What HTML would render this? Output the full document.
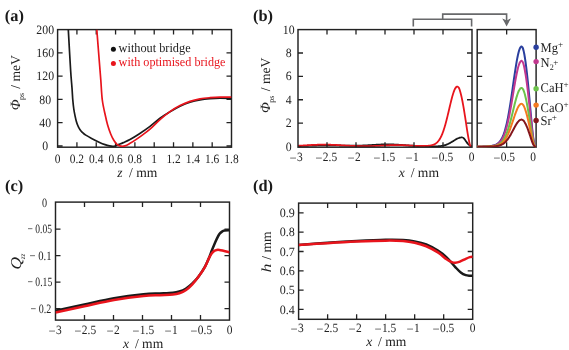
<!DOCTYPE html>
<html><head><meta charset="utf-8"><title>fig</title>
<style>
html,body{margin:0;padding:0;background:#fff;}
svg{display:block;font-family:"Liberation Serif",serif;text-rendering:geometricPrecision;}
svg{will-change:transform;}

</style></head><body>
<svg width="569" height="350" viewBox="0 0 569 350">
<rect width="569" height="350" fill="#fff"/>
<defs>
<clipPath id="ca"><rect x="57.6" y="29.6" width="173.9" height="117.6"/></clipPath>
<clipPath id="cb"><rect x="298.0" y="29.6" width="174.0" height="117.6"/></clipPath>
<clipPath id="ci"><rect x="477.2" y="29.6" width="58.9" height="117.6"/></clipPath>
<clipPath id="cc"><rect x="55.5" y="202.1" width="174" height="118.0"/></clipPath>
<clipPath id="cd"><rect x="298.6" y="203.1" width="174.1" height="116.2"/></clipPath>
</defs>

<text x="4.8" y="20.7" font-size="16.4" font-weight="bold" fill="#1a1a1a">(a)</text>
<text x="253.0" y="20.7" font-size="16.4" font-weight="bold" fill="#1a1a1a">(b)</text>
<text x="5.1" y="190.7" font-size="16.4" font-weight="bold" fill="#1a1a1a">(c)</text>
<text x="253.0" y="190.7" font-size="16.4" font-weight="bold" fill="#1a1a1a">(d)</text>
<rect x="57.6" y="29.6" width="173.9" height="117.6" fill="none" stroke="#222222" stroke-width="1.45"/>
<path d="M76.92,147.2 v-5.0 M76.92,29.6 v5.0 M96.24,147.2 v-5.0 M96.24,29.6 v5.0 M115.57,147.2 v-5.0 M115.57,29.6 v5.0 M134.89,147.2 v-5.0 M134.89,29.6 v5.0 M154.21,147.2 v-5.0 M154.21,29.6 v5.0 M173.53,147.2 v-5.0 M173.53,29.6 v5.0 M192.86,147.2 v-5.0 M192.86,29.6 v5.0 M212.18,147.2 v-5.0 M212.18,29.6 v5.0 M57.6,146.00 h5.0 M231.5,146.00 h-5.0 M57.6,122.72 h5.0 M231.5,122.72 h-5.0 M57.6,99.44 h5.0 M231.5,99.44 h-5.0 M57.6,76.16 h5.0 M231.5,76.16 h-5.0 M57.6,52.88 h5.0 M231.5,52.88 h-5.0 " fill="none" stroke="#222222" stroke-width="1.3"/>
<path d="M68.30,29.60 C68.68,36.33 69.98,60.27 70.60,70.00 C71.22,79.73 71.63,83.00 72.00,88.00 C72.37,93.00 72.50,96.50 72.80,100.00 C73.10,103.50 73.42,106.30 73.80,109.00 C74.18,111.70 74.68,114.17 75.10,116.20 C75.52,118.23 75.87,119.68 76.30,121.20 C76.73,122.72 77.22,124.10 77.70,125.30 C78.18,126.50 78.65,127.45 79.20,128.40 C79.75,129.35 80.33,130.20 81.00,131.00 C81.67,131.80 82.40,132.52 83.20,133.20 C84.00,133.88 84.40,134.23 85.80,135.10 C87.20,135.97 89.30,137.18 91.60,138.40 C93.90,139.62 97.37,141.37 99.60,142.40 C101.83,143.43 103.35,144.02 105.00,144.60 C106.65,145.18 108.17,145.62 109.50,145.90 C110.83,146.18 111.92,146.35 113.00,146.30 C114.08,146.25 115.00,145.92 116.00,145.60 C117.00,145.28 117.78,144.90 119.00,144.40 C120.22,143.90 121.47,143.42 123.30,142.60 C125.13,141.78 127.37,140.93 130.00,139.50 C132.63,138.07 135.77,136.18 139.10,134.00 C142.43,131.82 146.52,129.02 150.00,126.40 C153.48,123.78 156.67,120.73 160.00,118.30 C163.33,115.87 166.67,113.82 170.00,111.80 C173.33,109.78 176.67,107.80 180.00,106.20 C183.33,104.60 186.67,103.27 190.00,102.20 C193.33,101.13 196.67,100.40 200.00,99.80 C203.33,99.20 206.67,98.88 210.00,98.60 C213.33,98.32 216.42,98.13 220.00,98.10 C223.58,98.07 229.58,98.35 231.50,98.40" fill="none" stroke="#1a1a1a" stroke-width="1.7" stroke-linejoin="round" stroke-linecap="butt" clip-path="url(#ca)"/>
<path d="M96.80,29.60 C97.20,34.67 98.53,51.60 99.20,60.00 C99.87,68.40 100.28,73.33 100.80,80.00 C101.32,86.67 101.53,94.03 102.30,100.00 C103.07,105.97 104.50,111.58 105.40,115.80 C106.30,120.02 106.82,122.27 107.70,125.30 C108.58,128.33 109.68,131.50 110.70,134.00 C111.72,136.50 112.75,138.58 113.80,140.30 C114.85,142.02 115.82,143.33 117.00,144.30 C118.18,145.27 119.58,145.83 120.90,146.10 C122.22,146.37 123.45,146.32 124.90,145.90 C126.35,145.48 127.77,144.65 129.60,143.60 C131.43,142.55 133.78,141.02 135.90,139.60 C138.02,138.18 139.95,136.83 142.30,135.10 C144.65,133.37 147.05,131.78 150.00,129.20 C152.95,126.62 156.67,122.53 160.00,119.60 C163.33,116.67 166.67,113.93 170.00,111.60 C173.33,109.27 176.67,107.30 180.00,105.60 C183.33,103.90 186.67,102.52 190.00,101.40 C193.33,100.28 196.67,99.52 200.00,98.90 C203.33,98.28 206.67,98.00 210.00,97.70 C213.33,97.40 216.42,97.18 220.00,97.10 C223.58,97.02 229.58,97.18 231.50,97.20" fill="none" stroke="#e8141c" stroke-width="1.7" stroke-linejoin="round" stroke-linecap="butt" clip-path="url(#ca)"/>
<text transform="translate(57.60,162.50) scale(0.9,1)" font-size="12.7" text-anchor="middle" fill="#222" >0</text>
<text transform="translate(76.92,162.50) scale(0.9,1)" font-size="12.7" text-anchor="middle" fill="#222" >0.2</text>
<text transform="translate(96.24,162.50) scale(0.9,1)" font-size="12.7" text-anchor="middle" fill="#222" >0.4</text>
<text transform="translate(115.57,162.50) scale(0.9,1)" font-size="12.7" text-anchor="middle" fill="#222" >0.6</text>
<text transform="translate(134.89,162.50) scale(0.9,1)" font-size="12.7" text-anchor="middle" fill="#222" >0.8</text>
<text transform="translate(154.21,162.50) scale(0.9,1)" font-size="12.7" text-anchor="middle" fill="#222" >1</text>
<text transform="translate(173.53,162.50) scale(0.9,1)" font-size="12.7" text-anchor="middle" fill="#222" >1.2</text>
<text transform="translate(192.86,162.50) scale(0.9,1)" font-size="12.7" text-anchor="middle" fill="#222" >1.4</text>
<text transform="translate(212.18,162.50) scale(0.9,1)" font-size="12.7" text-anchor="middle" fill="#222" >1.6</text>
<text transform="translate(231.50,162.50) scale(0.9,1)" font-size="12.7" text-anchor="middle" fill="#222" >1.8</text>
<text transform="translate(45.20,150.10) scale(0.93,1)" font-size="12.7" text-anchor="middle" fill="#222" >0</text>
<text transform="translate(45.20,126.82) scale(0.93,1)" font-size="12.7" text-anchor="middle" fill="#222" >40</text>
<text transform="translate(45.20,103.54) scale(0.93,1)" font-size="12.7" text-anchor="middle" fill="#222" >80</text>
<text transform="translate(45.20,80.26) scale(0.93,1)" font-size="12.7" text-anchor="middle" fill="#222" >120</text>
<text transform="translate(45.20,56.98) scale(0.93,1)" font-size="12.7" text-anchor="middle" fill="#222" >160</text>
<text transform="translate(45.20,33.70) scale(0.93,1)" font-size="12.7" text-anchor="middle" fill="#222" >200</text>
<text x="117.3" y="176.7" font-size="13.6" fill="#222" font-style="italic">z</text>
<text x="129.1" y="176.7" font-size="13.6" fill="#222">/ mm</text>
<text transform="translate(20.2,110.3) rotate(-90)" font-size="14.2" fill="#222" font-style="italic">Φ</text>
<text transform="translate(24.2,99.9) rotate(-90)" font-size="8.0" fill="#222">ps</text>
<text transform="translate(20.2,88.7) rotate(-90)" font-size="13.6" fill="#222">/ meV</text>
<circle cx="113.4" cy="49.2" r="2.5" fill="#111"/>
<circle cx="113.4" cy="63.6" r="2.5" fill="#e8141c"/>
<text transform="translate(118.60,52.00) scale(0.945,1)" font-size="13" text-anchor="start" fill="#222" >without bridge</text>
<text transform="translate(118.60,66.30) scale(0.937,1)" font-size="13" text-anchor="start" fill="#e8141c" >with optimised bridge</text>
<path d="M298.00,146.08 C298.10,146.08 298.39,146.07 298.58,146.06 C298.77,146.06 298.97,146.05 299.16,146.04 C299.35,146.04 299.55,146.03 299.74,146.03 C299.93,146.02 300.13,146.01 300.32,146.01 C300.51,146.00 300.71,145.99 300.90,145.99 C301.09,145.98 301.29,145.98 301.48,145.97 C301.67,145.96 301.87,145.96 302.06,145.95 C302.25,145.94 302.45,145.94 302.64,145.93 C302.83,145.92 303.03,145.92 303.22,145.91 C303.41,145.90 303.61,145.90 303.80,145.89 C303.99,145.88 304.19,145.88 304.38,145.87 C304.57,145.86 304.77,145.86 304.96,145.85 C305.15,145.84 305.35,145.84 305.54,145.83 C305.73,145.82 305.93,145.82 306.12,145.81 C306.31,145.80 306.51,145.80 306.70,145.79 C306.89,145.78 307.09,145.78 307.28,145.77 C307.47,145.76 307.67,145.76 307.86,145.75 C308.05,145.74 308.25,145.74 308.44,145.73 C308.63,145.72 308.83,145.72 309.02,145.71 C309.21,145.70 309.41,145.70 309.60,145.69 C309.79,145.68 309.99,145.68 310.18,145.67 C310.37,145.66 310.57,145.66 310.76,145.65 C310.95,145.64 311.15,145.64 311.34,145.63 C311.53,145.63 311.73,145.62 311.92,145.61 C312.11,145.61 312.31,145.60 312.50,145.59 C312.69,145.59 312.89,145.58 313.08,145.58 C313.27,145.57 313.47,145.56 313.66,145.56 C313.85,145.55 314.05,145.55 314.24,145.54 C314.43,145.53 314.63,145.53 314.82,145.52 C315.01,145.52 315.21,145.51 315.40,145.51 C315.59,145.50 315.79,145.50 315.98,145.49 C316.17,145.49 316.37,145.48 316.56,145.48 C316.75,145.47 316.95,145.47 317.14,145.46 C317.33,145.46 317.53,145.45 317.72,145.45 C317.91,145.44 318.11,145.44 318.30,145.43 C318.49,145.43 318.69,145.42 318.88,145.42 C319.07,145.42 319.27,145.41 319.46,145.41 C319.65,145.40 319.85,145.40 320.04,145.40 C320.23,145.39 320.43,145.39 320.62,145.39 C320.81,145.38 321.01,145.38 321.20,145.38 C321.39,145.37 321.59,145.37 321.78,145.37 C321.97,145.36 322.17,145.36 322.36,145.36 C322.55,145.36 322.75,145.35 322.94,145.35 C323.13,145.35 323.33,145.35 323.52,145.35 C323.71,145.34 323.91,145.34 324.10,145.34 C324.29,145.34 324.49,145.34 324.68,145.34 C324.87,145.33 325.07,145.33 325.26,145.33 C325.45,145.33 325.65,145.33 325.84,145.33 C326.03,145.33 326.23,145.33 326.42,145.33 C326.61,145.33 326.81,145.33 327.00,145.33 C327.19,145.33 327.39,145.33 327.58,145.33 C327.77,145.33 327.97,145.33 328.16,145.33 C328.35,145.33 328.55,145.33 328.74,145.33 C328.93,145.33 329.13,145.33 329.32,145.33 C329.51,145.33 329.71,145.33 329.90,145.33 C330.09,145.34 330.29,145.34 330.48,145.34 C330.67,145.34 330.87,145.34 331.06,145.34 C331.25,145.35 331.45,145.35 331.64,145.35 C331.83,145.35 332.03,145.35 332.22,145.36 C332.41,145.36 332.61,145.36 332.80,145.36 C332.99,145.37 333.19,145.37 333.38,145.37 C333.57,145.37 333.77,145.38 333.96,145.38 C334.15,145.38 334.35,145.39 334.54,145.39 C334.73,145.39 334.93,145.40 335.12,145.40 C335.31,145.40 335.51,145.41 335.70,145.41 C335.89,145.41 336.09,145.42 336.28,145.42 C336.47,145.42 336.67,145.43 336.86,145.43 C337.05,145.44 337.25,145.44 337.44,145.44 C337.63,145.45 337.83,145.45 338.02,145.46 C338.21,145.46 338.41,145.46 338.60,145.47 C338.79,145.47 338.99,145.48 339.18,145.48 C339.37,145.49 339.57,145.49 339.76,145.49 C339.95,145.50 340.15,145.50 340.34,145.51 C340.53,145.51 340.73,145.52 340.92,145.52 C341.11,145.53 341.31,145.53 341.50,145.53 C341.69,145.54 341.89,145.54 342.08,145.55 C342.27,145.55 342.47,145.56 342.66,145.56 C342.85,145.56 343.05,145.57 343.24,145.57 C343.43,145.58 343.63,145.58 343.82,145.59 C344.01,145.59 344.21,145.59 344.40,145.60 C344.59,145.60 344.79,145.61 344.98,145.61 C345.17,145.61 345.37,145.62 345.56,145.62 C345.75,145.63 345.95,145.63 346.14,145.63 C346.33,145.64 346.53,145.64 346.72,145.64 C346.91,145.65 347.11,145.65 347.30,145.65 C347.49,145.66 347.69,145.66 347.88,145.66 C348.07,145.66 348.27,145.67 348.46,145.67 C348.65,145.67 348.85,145.68 349.04,145.68 C349.23,145.68 349.43,145.68 349.62,145.68 C349.81,145.69 350.01,145.69 350.20,145.69 C350.39,145.69 350.59,145.69 350.78,145.70 C350.97,145.70 351.17,145.70 351.36,145.70 C351.55,145.70 351.75,145.70 351.94,145.70 C352.13,145.70 352.33,145.70 352.52,145.70 C352.71,145.70 352.91,145.70 353.10,145.70 C353.29,145.70 353.49,145.70 353.68,145.70 C353.87,145.70 354.07,145.70 354.26,145.70 C354.45,145.70 354.65,145.70 354.84,145.70 C355.03,145.70 355.23,145.69 355.42,145.69 C355.61,145.69 355.81,145.69 356.00,145.69 C356.19,145.68 356.39,145.68 356.58,145.68 C356.77,145.68 356.97,145.67 357.16,145.67 C357.35,145.67 357.55,145.66 357.74,145.66 C357.93,145.66 358.13,145.65 358.32,145.65 C358.51,145.64 358.71,145.64 358.90,145.64 C359.09,145.63 359.29,145.63 359.48,145.62 C359.67,145.62 359.87,145.61 360.06,145.60 C360.25,145.60 360.45,145.59 360.64,145.59 C360.83,145.58 361.03,145.57 361.22,145.57 C361.41,145.56 361.61,145.55 361.80,145.55 C361.99,145.54 362.19,145.53 362.38,145.53 C362.57,145.52 362.77,145.51 362.96,145.50 C363.15,145.50 363.35,145.49 363.54,145.48 C363.73,145.47 363.93,145.46 364.12,145.45 C364.31,145.44 364.51,145.44 364.70,145.43 C364.89,145.42 365.09,145.41 365.28,145.40 C365.47,145.39 365.67,145.38 365.86,145.37 C366.05,145.36 366.25,145.35 366.44,145.34 C366.63,145.33 366.83,145.32 367.02,145.31 C367.21,145.30 367.41,145.29 367.60,145.28 C367.79,145.27 367.99,145.25 368.18,145.24 C368.37,145.23 368.57,145.22 368.76,145.21 C368.95,145.20 369.15,145.19 369.34,145.18 C369.53,145.16 369.73,145.15 369.92,145.14 C370.11,145.13 370.31,145.12 370.50,145.11 C370.69,145.09 370.89,145.08 371.08,145.07 C371.27,145.06 371.47,145.05 371.66,145.03 C371.85,145.02 372.05,145.01 372.24,145.00 C372.43,144.99 372.63,144.98 372.82,144.96 C373.01,144.95 373.21,144.94 373.40,144.93 C373.59,144.92 373.79,144.90 373.98,144.89 C374.17,144.88 374.37,144.87 374.56,144.86 C374.75,144.84 374.95,144.83 375.14,144.82 C375.33,144.81 375.53,144.80 375.72,144.79 C375.91,144.78 376.11,144.76 376.30,144.75 C376.49,144.74 376.69,144.73 376.88,144.72 C377.07,144.71 377.27,144.70 377.46,144.69 C377.65,144.68 377.85,144.67 378.04,144.66 C378.23,144.65 378.43,144.64 378.62,144.63 C378.81,144.62 379.01,144.61 379.20,144.60 C379.39,144.59 379.59,144.58 379.78,144.57 C379.97,144.56 380.17,144.56 380.36,144.55 C380.55,144.54 380.75,144.53 380.94,144.52 C381.13,144.52 381.33,144.51 381.52,144.50 C381.71,144.49 381.91,144.49 382.10,144.48 C382.29,144.47 382.49,144.47 382.68,144.46 C382.87,144.46 383.07,144.45 383.26,144.44 C383.45,144.44 383.65,144.43 383.84,144.43 C384.03,144.42 384.23,144.42 384.42,144.42 C384.61,144.41 384.81,144.41 385.00,144.41 C385.19,144.40 385.39,144.40 385.58,144.40 C385.77,144.39 385.97,144.39 386.16,144.39 C386.35,144.39 386.55,144.39 386.74,144.39 C386.93,144.38 387.13,144.38 387.32,144.38 C387.51,144.38 387.71,144.38 387.90,144.38 C388.09,144.38 388.29,144.38 388.48,144.39 C388.67,144.39 388.87,144.39 389.06,144.39 C389.25,144.39 389.45,144.39 389.64,144.40 C389.83,144.40 390.03,144.40 390.22,144.41 C390.41,144.41 390.61,144.41 390.80,144.42 C390.99,144.42 391.19,144.43 391.38,144.43 C391.57,144.43 391.77,144.44 391.96,144.45 C392.15,144.45 392.35,144.46 392.54,144.46 C392.73,144.47 392.93,144.48 393.12,144.48 C393.31,144.49 393.51,144.50 393.70,144.50 C393.89,144.51 394.09,144.52 394.28,144.53 C394.47,144.54 394.67,144.54 394.86,144.55 C395.05,144.56 395.25,144.57 395.44,144.58 C395.63,144.59 395.83,144.60 396.02,144.61 C396.21,144.62 396.41,144.63 396.60,144.64 C396.79,144.65 396.99,144.66 397.18,144.67 C397.37,144.68 397.57,144.69 397.76,144.71 C397.95,144.72 398.15,144.73 398.34,144.74 C398.53,144.75 398.73,144.76 398.92,144.78 C399.11,144.79 399.31,144.80 399.50,144.81 C399.69,144.83 399.89,144.84 400.08,144.85 C400.27,144.86 400.47,144.88 400.66,144.89 C400.85,144.90 401.05,144.92 401.24,144.93 C401.43,144.94 401.63,144.96 401.82,144.97 C402.01,144.98 402.21,145.00 402.40,145.01 C402.59,145.03 402.79,145.04 402.98,145.05 C403.17,145.07 403.37,145.08 403.56,145.10 C403.75,145.11 403.95,145.12 404.14,145.14 C404.33,145.15 404.53,145.17 404.72,145.18 C404.91,145.19 405.11,145.21 405.30,145.22 C405.49,145.24 405.69,145.25 405.88,145.27 C406.07,145.28 406.27,145.29 406.46,145.31 C406.65,145.32 406.85,145.34 407.04,145.35 C407.23,145.36 407.43,145.38 407.62,145.39 C407.81,145.41 408.01,145.42 408.20,145.43 C408.39,145.45 408.59,145.46 408.78,145.48 C408.97,145.49 409.17,145.50 409.36,145.52 C409.55,145.53 409.75,145.54 409.94,145.56 C410.13,145.57 410.33,145.58 410.52,145.60 C410.71,145.61 410.91,145.62 411.10,145.63 C411.29,145.65 411.49,145.66 411.68,145.67 C411.87,145.69 412.07,145.70 412.26,145.71 C412.45,145.72 412.65,145.73 412.84,145.75 C413.03,145.76 413.23,145.77 413.42,145.78 C413.61,145.79 413.81,145.81 414.00,145.82 C414.19,145.83 414.39,145.84 414.58,145.85 C414.77,145.86 414.97,145.87 415.16,145.88 C415.35,145.89 415.55,145.90 415.74,145.91 C415.93,145.93 416.13,145.94 416.32,145.95 C416.51,145.96 416.71,145.97 416.90,145.98 C417.09,145.98 417.29,145.99 417.48,146.00 C417.67,146.01 417.87,146.02 418.06,146.03 C418.25,146.04 418.45,146.05 418.64,146.06 C418.83,146.07 419.03,146.08 419.22,146.08 C419.41,146.09 419.61,146.10 419.80,146.11 C419.99,146.12 420.19,146.12 420.38,146.13 C420.57,146.14 420.77,146.15 420.96,146.15 C421.15,146.16 421.35,146.17 421.54,146.18 C421.73,146.18 421.93,146.19 422.12,146.20 C422.31,146.20 422.51,146.21 422.70,146.21 C422.89,146.22 423.09,146.23 423.28,146.23 C423.47,146.24 423.67,146.25 423.86,146.25 C424.05,146.26 424.25,146.26 424.44,146.27 C424.63,146.27 424.83,146.28 425.02,146.28 C425.21,146.29 425.41,146.29 425.60,146.30 C425.79,146.30 425.99,146.31 426.18,146.31 C426.37,146.32 426.57,146.32 426.76,146.32 C426.95,146.33 427.15,146.33 427.34,146.34 C427.53,146.34 427.73,146.34 427.92,146.35 C428.11,146.35 428.31,146.35 428.50,146.36 C428.69,146.36 428.89,146.36 429.08,146.37 C429.27,146.37 429.47,146.37 429.66,146.37 C429.85,146.38 430.05,146.38 430.24,146.38 C430.43,146.38 430.63,146.38 430.82,146.38 C431.01,146.39 431.21,146.39 431.40,146.39 C431.59,146.39 431.79,146.39 431.98,146.39 C432.17,146.39 432.37,146.39 432.56,146.39 C432.75,146.39 432.95,146.39 433.14,146.39 C433.33,146.39 433.53,146.39 433.72,146.39 C433.91,146.39 434.11,146.39 434.30,146.38 C434.49,146.38 434.69,146.38 434.88,146.37 C435.07,146.37 435.27,146.37 435.46,146.36 C435.65,146.36 435.85,146.35 436.04,146.35 C436.23,146.34 436.43,146.34 436.62,146.33 C436.81,146.32 437.01,146.32 437.20,146.31 C437.39,146.30 437.59,146.29 437.78,146.28 C437.97,146.27 438.17,146.26 438.36,146.24 C438.55,146.23 438.75,146.22 438.94,146.20 C439.13,146.19 439.33,146.17 439.52,146.15 C439.71,146.14 439.91,146.12 440.10,146.10 C440.29,146.08 440.49,146.05 440.68,146.03 C440.87,146.01 441.07,145.98 441.26,145.95 C441.45,145.93 441.65,145.90 441.84,145.86 C442.03,145.83 442.23,145.80 442.42,145.76 C442.61,145.73 442.81,145.69 443.00,145.65 C443.19,145.61 443.39,145.57 443.58,145.52 C443.77,145.48 443.97,145.43 444.16,145.38 C444.35,145.33 444.55,145.28 444.74,145.22 C444.93,145.17 445.13,145.11 445.32,145.05 C445.51,144.99 445.71,144.92 445.90,144.85 C446.09,144.79 446.29,144.72 446.48,144.64 C446.67,144.57 446.87,144.50 447.06,144.42 C447.25,144.34 447.45,144.25 447.64,144.17 C447.83,144.08 448.03,144.00 448.22,143.91 C448.41,143.81 448.61,143.72 448.80,143.62 C448.99,143.53 449.19,143.43 449.38,143.32 C449.57,143.22 449.77,143.12 449.96,143.01 C450.15,142.90 450.35,142.79 450.54,142.68 C450.73,142.57 450.93,142.46 451.12,142.34 C451.31,142.22 451.51,142.11 451.70,141.99 C451.89,141.87 452.09,141.75 452.28,141.63 C452.47,141.51 452.67,141.38 452.86,141.26 C453.05,141.14 453.25,141.02 453.44,140.89 C453.63,140.77 453.83,140.65 454.02,140.53 C454.21,140.40 454.41,140.28 454.60,140.16 C454.79,140.04 454.99,139.92 455.18,139.81 C455.37,139.69 455.57,139.58 455.76,139.46 C455.95,139.35 456.15,139.24 456.34,139.13 C456.53,139.03 456.73,138.92 456.92,138.82 C457.11,138.72 457.31,138.63 457.50,138.53 C457.69,138.44 457.89,138.35 458.08,138.27 C458.27,138.19 458.47,138.11 458.66,138.04 C458.85,137.97 459.05,137.90 459.24,137.84 C459.43,137.77 459.63,137.72 459.82,137.67 C460.01,137.62 460.21,137.58 460.40,137.54 C460.59,137.50 460.79,137.47 460.98,137.45 C461.17,137.42 461.37,137.40 461.56,137.39 C461.75,137.38 461.95,137.36 462.14,137.39 C462.33,137.41 462.53,137.45 462.72,137.54 C462.91,137.62 463.11,137.74 463.30,137.89 C463.49,138.04 463.69,138.22 463.88,138.42 C464.07,138.62 464.27,138.86 464.46,139.10 C464.65,139.34 464.85,139.61 465.04,139.88 C465.23,140.15 465.43,140.43 465.62,140.71 C465.81,141.00 466.01,141.28 466.20,141.56 C466.39,141.84 466.59,142.12 466.78,142.39 C466.97,142.65 467.17,142.91 467.36,143.15 C467.55,143.39 467.75,143.62 467.94,143.84 C468.13,144.05 468.33,144.25 468.52,144.43 C468.71,144.62 468.91,144.78 469.10,144.93 C469.29,145.08 469.49,145.18 469.68,145.34 C469.87,145.50 470.07,145.73 470.26,145.87 C470.45,146.01 470.65,146.12 470.84,146.20 C471.03,146.29 471.23,146.35 471.42,146.40 C471.61,146.45 471.90,146.48 472.00,146.50" fill="none" stroke="#1a1a1a" stroke-width="1.8" stroke-linejoin="round" stroke-linecap="butt" clip-path="url(#cb)"/>
<path d="M298.00,145.80 C298.10,145.80 298.39,145.78 298.58,145.77 C298.77,145.76 298.97,145.75 299.16,145.74 C299.35,145.73 299.55,145.72 299.74,145.71 C299.93,145.70 300.13,145.69 300.32,145.68 C300.51,145.67 300.71,145.65 300.90,145.64 C301.09,145.63 301.29,145.62 301.48,145.61 C301.67,145.60 301.87,145.59 302.06,145.58 C302.25,145.56 302.45,145.55 302.64,145.54 C302.83,145.53 303.03,145.52 303.22,145.51 C303.41,145.50 303.61,145.48 303.80,145.47 C303.99,145.46 304.19,145.45 304.38,145.44 C304.57,145.42 304.77,145.41 304.96,145.40 C305.15,145.39 305.35,145.38 305.54,145.37 C305.73,145.35 305.93,145.34 306.12,145.33 C306.31,145.32 306.51,145.31 306.70,145.29 C306.89,145.28 307.09,145.27 307.28,145.26 C307.47,145.25 307.67,145.24 307.86,145.22 C308.05,145.21 308.25,145.20 308.44,145.19 C308.63,145.18 308.83,145.17 309.02,145.16 C309.21,145.14 309.41,145.13 309.60,145.12 C309.79,145.11 309.99,145.10 310.18,145.09 C310.37,145.08 310.57,145.07 310.76,145.06 C310.95,145.04 311.15,145.03 311.34,145.02 C311.53,145.01 311.73,145.00 311.92,144.99 C312.11,144.98 312.31,144.97 312.50,144.96 C312.69,144.95 312.89,144.94 313.08,144.93 C313.27,144.92 313.47,144.91 313.66,144.90 C313.85,144.89 314.05,144.88 314.24,144.88 C314.43,144.87 314.63,144.86 314.82,144.85 C315.01,144.84 315.21,144.83 315.40,144.82 C315.59,144.82 315.79,144.81 315.98,144.80 C316.17,144.79 316.37,144.79 316.56,144.78 C316.75,144.77 316.95,144.76 317.14,144.76 C317.33,144.75 317.53,144.74 317.72,144.74 C317.91,144.73 318.11,144.72 318.30,144.72 C318.49,144.71 318.69,144.71 318.88,144.70 C319.07,144.70 319.27,144.69 319.46,144.69 C319.65,144.68 319.85,144.68 320.04,144.67 C320.23,144.67 320.43,144.67 320.62,144.66 C320.81,144.66 321.01,144.66 321.20,144.65 C321.39,144.65 321.59,144.65 321.78,144.64 C321.97,144.64 322.17,144.64 322.36,144.64 C322.55,144.64 322.75,144.63 322.94,144.63 C323.13,144.63 323.33,144.63 323.52,144.63 C323.71,144.63 323.91,144.63 324.10,144.63 C324.29,144.63 324.49,144.63 324.68,144.63 C324.87,144.63 325.07,144.63 325.26,144.63 C325.45,144.63 325.65,144.64 325.84,144.64 C326.03,144.64 326.23,144.64 326.42,144.64 C326.61,144.65 326.81,144.65 327.00,144.65 C327.19,144.66 327.39,144.66 327.58,144.66 C327.77,144.67 327.97,144.67 328.16,144.67 C328.35,144.68 328.55,144.68 328.74,144.69 C328.93,144.69 329.13,144.70 329.32,144.70 C329.51,144.71 329.71,144.71 329.90,144.72 C330.09,144.72 330.29,144.73 330.48,144.74 C330.67,144.74 330.87,144.75 331.06,144.76 C331.25,144.76 331.45,144.77 331.64,144.78 C331.83,144.78 332.03,144.79 332.22,144.80 C332.41,144.81 332.61,144.82 332.80,144.82 C332.99,144.83 333.19,144.84 333.38,144.85 C333.57,144.86 333.77,144.87 333.96,144.88 C334.15,144.88 334.35,144.89 334.54,144.90 C334.73,144.91 334.93,144.92 335.12,144.93 C335.31,144.94 335.51,144.95 335.70,144.96 C335.89,144.97 336.09,144.98 336.28,144.99 C336.47,145.00 336.67,145.01 336.86,145.02 C337.05,145.03 337.25,145.04 337.44,145.06 C337.63,145.07 337.83,145.08 338.02,145.09 C338.21,145.10 338.41,145.11 338.60,145.12 C338.79,145.13 338.99,145.14 339.18,145.15 C339.37,145.17 339.57,145.18 339.76,145.19 C339.95,145.20 340.15,145.21 340.34,145.22 C340.53,145.24 340.73,145.25 340.92,145.26 C341.11,145.27 341.31,145.28 341.50,145.29 C341.69,145.31 341.89,145.32 342.08,145.33 C342.27,145.34 342.47,145.35 342.66,145.36 C342.85,145.38 343.05,145.39 343.24,145.40 C343.43,145.41 343.63,145.42 343.82,145.43 C344.01,145.45 344.21,145.46 344.40,145.47 C344.59,145.48 344.79,145.49 344.98,145.50 C345.17,145.52 345.37,145.53 345.56,145.54 C345.75,145.55 345.95,145.56 346.14,145.57 C346.33,145.58 346.53,145.60 346.72,145.61 C346.91,145.62 347.11,145.63 347.30,145.64 C347.49,145.65 347.69,145.66 347.88,145.67 C348.07,145.68 348.27,145.69 348.46,145.70 C348.65,145.71 348.85,145.72 349.04,145.74 C349.23,145.75 349.43,145.76 349.62,145.77 C349.81,145.78 350.01,145.79 350.20,145.80 C350.39,145.81 350.59,145.82 350.78,145.82 C350.97,145.83 351.17,145.84 351.36,145.85 C351.55,145.86 351.75,145.87 351.94,145.88 C352.13,145.89 352.33,145.90 352.52,145.91 C352.71,145.92 352.91,145.92 353.10,145.93 C353.29,145.94 353.49,145.95 353.68,145.96 C353.87,145.97 354.07,145.97 354.26,145.98 C354.45,145.99 354.65,146.00 354.84,146.00 C355.03,146.01 355.23,146.02 355.42,146.02 C355.61,146.03 355.81,146.04 356.00,146.05 C356.19,146.05 356.39,146.06 356.58,146.06 C356.77,146.07 356.97,146.08 357.16,146.08 C357.35,146.09 357.55,146.09 357.74,146.10 C357.93,146.10 358.13,146.11 358.32,146.12 C358.51,146.12 358.71,146.13 358.90,146.13 C359.09,146.13 359.29,146.14 359.48,146.14 C359.67,146.15 359.87,146.15 360.06,146.16 C360.25,146.16 360.45,146.16 360.64,146.17 C360.83,146.17 361.03,146.17 361.22,146.18 C361.41,146.18 361.61,146.18 361.80,146.18 C361.99,146.19 362.19,146.19 362.38,146.19 C362.57,146.19 362.77,146.19 362.96,146.20 C363.15,146.20 363.35,146.20 363.54,146.20 C363.73,146.20 363.93,146.20 364.12,146.20 C364.31,146.20 364.51,146.20 364.70,146.20 C364.89,146.20 365.09,146.20 365.28,146.20 C365.47,146.20 365.67,146.20 365.86,146.20 C366.05,146.20 366.25,146.20 366.44,146.20 C366.63,146.20 366.83,146.20 367.02,146.20 C367.21,146.19 367.41,146.19 367.60,146.19 C367.79,146.19 367.99,146.19 368.18,146.18 C368.37,146.18 368.57,146.18 368.76,146.17 C368.95,146.17 369.15,146.17 369.34,146.16 C369.53,146.16 369.73,146.16 369.92,146.15 C370.11,146.15 370.31,146.14 370.50,146.14 C370.69,146.14 370.89,146.13 371.08,146.13 C371.27,146.12 371.47,146.12 371.66,146.11 C371.85,146.10 372.05,146.10 372.24,146.09 C372.43,146.09 372.63,146.08 372.82,146.07 C373.01,146.07 373.21,146.06 373.40,146.06 C373.59,146.05 373.79,146.04 373.98,146.03 C374.17,146.03 374.37,146.02 374.56,146.01 C374.75,146.00 374.95,146.00 375.14,145.99 C375.33,145.98 375.53,145.97 375.72,145.96 C375.91,145.96 376.11,145.95 376.30,145.94 C376.49,145.93 376.69,145.92 376.88,145.91 C377.07,145.90 377.27,145.89 377.46,145.88 C377.65,145.87 377.85,145.86 378.04,145.85 C378.23,145.84 378.43,145.83 378.62,145.82 C378.81,145.81 379.01,145.80 379.20,145.79 C379.39,145.78 379.59,145.77 379.78,145.76 C379.97,145.75 380.17,145.74 380.36,145.73 C380.55,145.72 380.75,145.71 380.94,145.70 C381.13,145.69 381.33,145.68 381.52,145.67 C381.71,145.66 381.91,145.65 382.10,145.63 C382.29,145.62 382.49,145.61 382.68,145.60 C382.87,145.59 383.07,145.58 383.26,145.57 C383.45,145.56 383.65,145.55 383.84,145.54 C384.03,145.53 384.23,145.52 384.42,145.50 C384.61,145.49 384.81,145.48 385.00,145.47 C385.19,145.46 385.39,145.45 385.58,145.44 C385.77,145.43 385.97,145.42 386.16,145.41 C386.35,145.40 386.55,145.39 386.74,145.38 C386.93,145.37 387.13,145.36 387.32,145.35 C387.51,145.34 387.71,145.33 387.90,145.32 C388.09,145.31 388.29,145.30 388.48,145.30 C388.67,145.29 388.87,145.28 389.06,145.27 C389.25,145.26 389.45,145.25 389.64,145.25 C389.83,145.24 390.03,145.23 390.22,145.22 C390.41,145.22 390.61,145.21 390.80,145.20 C390.99,145.20 391.19,145.19 391.38,145.18 C391.57,145.18 391.77,145.17 391.96,145.16 C392.15,145.16 392.35,145.15 392.54,145.15 C392.73,145.14 392.93,145.14 393.12,145.13 C393.31,145.13 393.51,145.13 393.70,145.12 C393.89,145.12 394.09,145.12 394.28,145.11 C394.47,145.11 394.67,145.11 394.86,145.11 C395.05,145.10 395.25,145.10 395.44,145.10 C395.63,145.10 395.83,145.10 396.02,145.10 C396.21,145.10 396.41,145.10 396.60,145.10 C396.79,145.10 396.99,145.10 397.18,145.10 C397.37,145.10 397.57,145.10 397.76,145.10 C397.95,145.10 398.15,145.10 398.34,145.11 C398.53,145.11 398.73,145.11 398.92,145.11 C399.11,145.12 399.31,145.12 399.50,145.12 C399.69,145.13 399.89,145.13 400.08,145.14 C400.27,145.14 400.47,145.14 400.66,145.15 C400.85,145.15 401.05,145.16 401.24,145.16 C401.43,145.17 401.63,145.18 401.82,145.18 C402.01,145.19 402.21,145.20 402.40,145.20 C402.59,145.21 402.79,145.22 402.98,145.22 C403.17,145.23 403.37,145.24 403.56,145.25 C403.75,145.25 403.95,145.26 404.14,145.27 C404.33,145.28 404.53,145.29 404.72,145.30 C404.91,145.30 405.11,145.31 405.30,145.32 C405.49,145.33 405.69,145.34 405.88,145.35 C406.07,145.36 406.27,145.37 406.46,145.38 C406.65,145.39 406.85,145.40 407.04,145.41 C407.23,145.42 407.43,145.43 407.62,145.44 C407.81,145.45 408.01,145.46 408.20,145.47 C408.39,145.48 408.59,145.49 408.78,145.50 C408.97,145.51 409.17,145.52 409.36,145.53 C409.55,145.54 409.75,145.55 409.94,145.56 C410.13,145.57 410.33,145.59 410.52,145.60 C410.71,145.61 410.91,145.62 411.10,145.63 C411.29,145.64 411.49,145.65 411.68,145.66 C411.87,145.67 412.07,145.68 412.26,145.69 C412.45,145.70 412.65,145.71 412.84,145.72 C413.03,145.73 413.23,145.74 413.42,145.75 C413.61,145.76 413.81,145.77 414.00,145.78 C414.19,145.79 414.39,145.79 414.58,145.80 C414.77,145.81 414.97,145.82 415.16,145.83 C415.35,145.84 415.55,145.85 415.74,145.85 C415.93,145.86 416.13,145.87 416.32,145.88 C416.51,145.89 416.71,145.89 416.90,145.90 C417.09,145.91 417.29,145.91 417.48,145.92 C417.67,145.93 417.87,145.93 418.06,145.94 C418.25,145.95 418.45,145.95 418.64,145.96 C418.83,145.96 419.03,145.97 419.22,145.97 C419.41,145.98 419.61,145.98 419.80,145.98 C419.99,145.99 420.19,145.99 420.38,145.99 C420.57,146.00 420.77,146.00 420.96,146.00 C421.15,146.00 421.35,146.01 421.54,146.01 C421.73,146.01 421.93,146.01 422.12,146.01 C422.31,146.01 422.51,146.01 422.70,146.01 C422.89,146.01 423.09,146.01 423.28,146.00 C423.47,146.00 423.67,146.00 423.86,146.00 C424.05,145.99 424.25,145.99 424.44,145.99 C424.63,145.98 424.83,145.98 425.02,145.97 C425.21,145.97 425.41,145.96 425.60,145.95 C425.79,145.94 425.99,145.94 426.18,145.93 C426.37,145.92 426.57,145.91 426.76,145.90 C426.95,145.88 427.15,145.87 427.34,145.86 C427.53,145.84 427.73,145.83 427.92,145.81 C428.11,145.80 428.31,145.78 428.50,145.76 C428.69,145.74 428.89,145.72 429.08,145.70 C429.27,145.67 429.47,145.65 429.66,145.62 C429.85,145.59 430.05,145.57 430.24,145.53 C430.43,145.50 430.63,145.47 430.82,145.43 C431.01,145.39 431.21,145.35 431.40,145.31 C431.59,145.27 431.79,145.22 431.98,145.17 C432.17,145.12 432.37,145.06 432.56,145.00 C432.75,144.94 432.95,144.88 433.14,144.81 C433.33,144.74 433.53,144.67 433.72,144.59 C433.91,144.51 434.11,144.42 434.30,144.33 C434.49,144.24 434.69,144.14 434.88,144.03 C435.07,143.92 435.27,143.81 435.46,143.68 C435.65,143.56 435.85,143.43 436.04,143.29 C436.23,143.14 436.43,142.99 436.62,142.83 C436.81,142.67 437.01,142.49 437.20,142.31 C437.39,142.12 437.59,141.93 437.78,141.72 C437.97,141.50 438.17,141.28 438.36,141.04 C438.55,140.81 438.75,140.55 438.94,140.29 C439.13,140.02 439.33,139.73 439.52,139.43 C439.71,139.13 439.91,138.82 440.10,138.48 C440.29,138.15 440.49,137.80 440.68,137.42 C440.87,137.05 441.07,136.66 441.26,136.25 C441.45,135.84 441.65,135.42 441.84,134.97 C442.03,134.52 442.23,134.05 442.42,133.56 C442.61,133.07 442.81,132.56 443.00,132.03 C443.19,131.49 443.39,130.94 443.58,130.37 C443.77,129.80 443.97,129.20 444.16,128.59 C444.35,127.97 444.55,127.34 444.74,126.69 C444.93,126.03 445.13,125.36 445.32,124.67 C445.51,123.98 445.71,123.27 445.90,122.54 C446.09,121.82 446.29,121.07 446.48,120.32 C446.67,119.56 446.87,118.79 447.06,118.01 C447.25,117.23 447.45,116.43 447.64,115.63 C447.83,114.83 448.03,114.01 448.22,113.20 C448.41,112.38 448.61,111.55 448.80,110.73 C448.99,109.91 449.19,109.08 449.38,108.25 C449.57,107.43 449.77,106.61 449.96,105.79 C450.15,104.98 450.35,104.16 450.54,103.37 C450.73,102.57 450.93,101.78 451.12,101.01 C451.31,100.24 451.51,99.48 451.70,98.74 C451.89,98.01 452.09,97.29 452.28,96.59 C452.47,95.90 452.67,95.23 452.86,94.59 C453.05,93.96 453.25,93.34 453.44,92.77 C453.63,92.19 453.83,91.64 454.02,91.14 C454.21,90.63 454.41,90.16 454.60,89.73 C454.79,89.30 454.99,88.90 455.18,88.55 C455.37,88.21 455.57,87.90 455.76,87.64 C455.95,87.38 456.15,87.16 456.34,86.99 C456.53,86.82 456.73,86.70 456.92,86.62 C457.11,86.55 457.31,86.50 457.50,86.54 C457.69,86.58 457.89,86.67 458.08,86.85 C458.27,87.02 458.47,87.27 458.66,87.58 C458.85,87.90 459.05,88.29 459.24,88.73 C459.43,89.18 459.63,89.70 459.82,90.28 C460.01,90.85 460.21,91.50 460.40,92.19 C460.59,92.88 460.79,93.63 460.98,94.42 C461.17,95.21 461.37,96.06 461.56,96.94 C461.75,97.83 461.95,98.76 462.14,99.72 C462.33,100.68 462.53,101.68 462.72,102.72 C462.91,103.75 463.11,104.81 463.30,105.91 C463.49,107.00 463.69,108.12 463.88,109.27 C464.07,110.41 464.27,111.59 464.46,112.79 C464.65,113.98 464.85,115.21 465.04,116.44 C465.23,117.68 465.43,118.95 465.62,120.22 C465.81,121.49 466.01,122.78 466.20,124.06 C466.39,125.34 466.59,126.64 466.78,127.91 C466.97,129.17 467.17,130.45 467.36,131.66 C467.55,132.87 467.75,134.07 467.94,135.19 C468.13,136.31 468.33,137.40 468.52,138.38 C468.71,139.37 468.91,140.18 469.10,141.10 C469.29,142.02 469.49,143.18 469.68,143.91 C469.87,144.65 470.07,145.11 470.26,145.50 C470.45,145.89 470.65,146.08 470.84,146.24 C471.03,146.40 471.23,146.43 471.42,146.47 C471.61,146.52 471.90,146.50 472.00,146.50" fill="none" stroke="#e8141c" stroke-width="1.8" stroke-linejoin="round" stroke-linecap="butt" clip-path="url(#cb)"/>
<rect x="298.0" y="29.6" width="174.0" height="117.6" fill="none" stroke="#222222" stroke-width="1.45"/>
<path d="M443.00,147.2 v-5.0 M443.00,29.6 v5.0 M414.00,147.2 v-5.0 M414.00,29.6 v5.0 M385.00,147.2 v-5.0 M385.00,29.6 v5.0 M356.00,147.2 v-5.0 M356.00,29.6 v5.0 M327.00,147.2 v-5.0 M327.00,29.6 v5.0 M298.0,123.12 h5.0 M472.0,123.12 h-5.0 M298.0,99.74 h5.0 M472.0,99.74 h-5.0 M298.0,76.36 h5.0 M472.0,76.36 h-5.0 M298.0,52.98 h5.0 M472.0,52.98 h-5.0 " fill="none" stroke="#222222" stroke-width="1.3"/>
<text transform="translate(471.50,161.20) scale(0.9,1)" font-size="12.7" text-anchor="middle" fill="#222" >0</text>
<text transform="translate(442.60,161.20) scale(0.9,1)" font-size="12.7" text-anchor="middle" fill="#222" >–<tspan dx="1.2">0.5</tspan></text>
<text transform="translate(412.50,161.20) scale(0.9,1)" font-size="12.7" text-anchor="middle" fill="#222" >–<tspan dx="1.2">1</tspan></text>
<text transform="translate(384.60,161.20) scale(0.9,1)" font-size="12.7" text-anchor="middle" fill="#222" >–<tspan dx="1.2">1.5</tspan></text>
<text transform="translate(354.50,161.20) scale(0.9,1)" font-size="12.7" text-anchor="middle" fill="#222" >–<tspan dx="1.2">2</tspan></text>
<text transform="translate(326.60,161.20) scale(0.9,1)" font-size="12.7" text-anchor="middle" fill="#222" >–<tspan dx="1.2">2.5</tspan></text>
<text transform="translate(296.50,161.20) scale(0.9,1)" font-size="12.7" text-anchor="middle" fill="#222" >–<tspan dx="1.2">3</tspan></text>
<text transform="translate(288.70,150.60) scale(0.93,1)" font-size="12.7" text-anchor="middle" fill="#222" >0</text>
<text transform="translate(288.70,127.22) scale(0.93,1)" font-size="12.7" text-anchor="middle" fill="#222" >2</text>
<text transform="translate(288.70,103.84) scale(0.93,1)" font-size="12.7" text-anchor="middle" fill="#222" >4</text>
<text transform="translate(288.70,80.46) scale(0.93,1)" font-size="12.7" text-anchor="middle" fill="#222" >6</text>
<text transform="translate(288.70,57.08) scale(0.93,1)" font-size="12.7" text-anchor="middle" fill="#222" >8</text>
<text transform="translate(288.70,33.70) scale(0.93,1)" font-size="12.7" text-anchor="middle" fill="#222" >10</text>
<text x="398.8" y="176.9" font-size="13.6" fill="#222" font-style="italic">x</text>
<text x="410.7" y="176.9" font-size="13.6" fill="#222">/ mm</text>
<text transform="translate(270.3,112.9) rotate(-90)" font-size="14.2" fill="#222" font-style="italic">Φ</text>
<text transform="translate(274.3,102.8) rotate(-90)" font-size="8.0" fill="#222">ps</text>
<text transform="translate(270.3,91.3) rotate(-90)" font-size="13.6" fill="#222">/ meV</text>
<rect x="477.2" y="29.6" width="58.900000000000034" height="117.6" fill="none" stroke="#222222" stroke-width="1.45"/>
<path d="M506.65,147.2 v-5.0 M506.65,29.6 v5.0 M477.2,123.12 h5.0 M477.2,99.74 h5.0 M477.2,76.36 h5.0 M477.2,52.98 h5.0 " fill="none" stroke="#222222" stroke-width="1.3"/>
<path d="M477.20,146.74 C477.30,146.73 477.59,146.73 477.79,146.73 C477.99,146.72 478.18,146.72 478.38,146.72 C478.57,146.71 478.77,146.71 478.97,146.71 C479.16,146.70 479.36,146.70 479.56,146.70 C479.75,146.69 479.95,146.69 480.14,146.68 C480.34,146.68 480.54,146.68 480.73,146.67 C480.93,146.67 481.13,146.66 481.32,146.65 C481.52,146.65 481.72,146.64 481.91,146.64 C482.11,146.63 482.30,146.63 482.50,146.62 C482.70,146.61 482.89,146.61 483.09,146.60 C483.29,146.59 483.48,146.58 483.68,146.58 C483.88,146.57 484.07,146.56 484.27,146.55 C484.46,146.54 484.66,146.53 484.86,146.52 C485.05,146.51 485.25,146.50 485.45,146.49 C485.64,146.48 485.84,146.47 486.03,146.46 C486.23,146.45 486.43,146.44 486.62,146.42 C486.82,146.41 487.02,146.40 487.21,146.38 C487.41,146.37 487.61,146.35 487.80,146.34 C488.00,146.32 488.19,146.30 488.39,146.29 C488.59,146.27 488.78,146.25 488.98,146.23 C489.18,146.21 489.37,146.19 489.57,146.17 C489.77,146.15 489.96,146.12 490.16,146.10 C490.35,146.07 490.55,146.05 490.75,146.02 C490.94,145.99 491.14,145.96 491.34,145.93 C491.53,145.90 491.73,145.86 491.93,145.83 C492.12,145.79 492.32,145.75 492.51,145.71 C492.71,145.67 492.91,145.63 493.10,145.58 C493.30,145.53 493.50,145.48 493.69,145.43 C493.89,145.37 494.08,145.32 494.28,145.25 C494.48,145.19 494.67,145.12 494.87,145.05 C495.07,144.98 495.26,144.90 495.46,144.82 C495.66,144.74 495.85,144.65 496.05,144.55 C496.24,144.46 496.44,144.36 496.64,144.25 C496.83,144.13 497.03,144.02 497.23,143.89 C497.42,143.76 497.62,143.63 497.81,143.48 C498.01,143.33 498.21,143.17 498.40,143.00 C498.60,142.83 498.80,142.65 498.99,142.46 C499.19,142.26 499.39,142.05 499.58,141.83 C499.78,141.60 499.97,141.37 500.17,141.11 C500.37,140.85 500.56,140.58 500.76,140.29 C500.96,139.99 501.15,139.68 501.35,139.35 C501.55,139.02 501.74,138.67 501.94,138.29 C502.13,137.91 502.33,137.52 502.53,137.09 C502.72,136.67 502.92,136.22 503.12,135.74 C503.31,135.27 503.51,134.77 503.70,134.23 C503.90,133.70 504.10,133.14 504.29,132.55 C504.49,131.96 504.69,131.34 504.88,130.68 C505.08,130.03 505.28,129.35 505.47,128.63 C505.67,127.91 505.86,127.16 506.06,126.37 C506.26,125.58 506.45,124.76 506.65,123.91 C506.85,123.05 507.04,122.16 507.24,121.24 C507.44,120.31 507.63,119.35 507.83,118.36 C508.02,117.37 508.22,116.34 508.42,115.28 C508.61,114.22 508.81,113.12 509.01,112.00 C509.20,110.87 509.40,109.71 509.60,108.53 C509.79,107.34 509.99,106.13 510.18,104.89 C510.38,103.65 510.58,102.38 510.77,101.09 C510.97,99.80 511.17,98.49 511.36,97.16 C511.56,95.84 511.75,94.49 511.95,93.13 C512.15,91.78 512.34,90.41 512.54,89.03 C512.74,87.66 512.93,86.27 513.13,84.89 C513.33,83.51 513.52,82.13 513.72,80.76 C513.91,79.38 514.11,78.01 514.31,76.66 C514.50,75.31 514.70,73.97 514.90,72.66 C515.09,71.34 515.29,70.04 515.49,68.78 C515.68,67.52 515.88,66.28 516.07,65.08 C516.27,63.89 516.47,62.72 516.66,61.61 C516.86,60.49 517.06,59.42 517.25,58.40 C517.45,57.38 517.64,56.41 517.84,55.50 C518.04,54.60 518.23,53.74 518.43,52.96 C518.63,52.17 518.82,51.44 519.02,50.79 C519.22,50.14 519.41,49.55 519.61,49.04 C519.80,48.53 520.00,48.09 520.20,47.73 C520.39,47.37 520.59,47.08 520.79,46.88 C520.98,46.67 521.18,46.54 521.38,46.50 C521.57,46.46 521.77,46.48 521.96,46.66 C522.16,46.83 522.36,47.12 522.55,47.53 C522.75,47.94 522.95,48.48 523.14,49.12 C523.34,49.76 523.53,50.52 523.73,51.38 C523.93,52.24 524.12,53.22 524.32,54.28 C524.52,55.34 524.71,56.51 524.91,57.76 C525.11,59.01 525.30,60.35 525.50,61.76 C525.69,63.18 525.89,64.67 526.09,66.23 C526.28,67.79 526.48,69.43 526.68,71.12 C526.87,72.81 527.07,74.57 527.26,76.38 C527.46,78.18 527.66,80.05 527.85,81.97 C528.05,83.89 528.25,85.87 528.44,87.88 C528.64,89.90 528.84,91.98 529.03,94.09 C529.23,96.19 529.42,98.36 529.62,100.53 C529.82,102.71 530.01,104.94 530.21,107.16 C530.41,109.37 530.60,111.63 530.80,113.83 C531.00,116.04 531.19,118.26 531.39,120.39 C531.58,122.52 531.78,124.63 531.98,126.61 C532.17,128.58 532.37,130.50 532.57,132.25 C532.76,133.99 532.96,135.63 533.15,137.09 C533.35,138.54 533.55,139.84 533.74,140.96 C533.94,142.07 534.14,143.01 534.33,143.79 C534.53,144.56 534.73,145.14 534.92,145.60 C535.12,146.06 535.31,146.34 535.51,146.54 C535.71,146.74 536.00,146.76 536.10,146.80" fill="none" stroke="#2a3f9e" stroke-width="2.0" stroke-linejoin="round" stroke-linecap="butt" clip-path="url(#ci)"/>
<path d="M477.20,146.74 C477.30,146.74 477.59,146.74 477.79,146.74 C477.99,146.74 478.18,146.73 478.38,146.73 C478.57,146.73 478.77,146.72 478.97,146.72 C479.16,146.72 479.36,146.71 479.56,146.71 C479.75,146.71 479.95,146.70 480.14,146.70 C480.34,146.70 480.54,146.69 480.73,146.69 C480.93,146.68 481.13,146.68 481.32,146.68 C481.52,146.67 481.72,146.67 481.91,146.66 C482.11,146.66 482.30,146.65 482.50,146.65 C482.70,146.64 482.89,146.63 483.09,146.63 C483.29,146.62 483.48,146.62 483.68,146.61 C483.88,146.60 484.07,146.59 484.27,146.59 C484.46,146.58 484.66,146.57 484.86,146.56 C485.05,146.56 485.25,146.55 485.45,146.54 C485.64,146.53 485.84,146.52 486.03,146.51 C486.23,146.50 486.43,146.49 486.62,146.48 C486.82,146.47 487.02,146.45 487.21,146.44 C487.41,146.43 487.61,146.42 487.80,146.40 C488.00,146.39 488.19,146.38 488.39,146.36 C488.59,146.34 488.78,146.33 488.98,146.31 C489.18,146.29 489.37,146.28 489.57,146.26 C489.77,146.24 489.96,146.22 490.16,146.20 C490.35,146.18 490.55,146.15 490.75,146.13 C490.94,146.11 491.14,146.08 491.34,146.05 C491.53,146.03 491.73,146.00 491.93,145.97 C492.12,145.93 492.32,145.90 492.51,145.87 C492.71,145.83 492.91,145.79 493.10,145.75 C493.30,145.71 493.50,145.67 493.69,145.62 C493.89,145.58 494.08,145.53 494.28,145.47 C494.48,145.42 494.67,145.36 494.87,145.30 C495.07,145.24 495.26,145.17 495.46,145.10 C495.66,145.03 495.85,144.96 496.05,144.87 C496.24,144.79 496.44,144.70 496.64,144.61 C496.83,144.51 497.03,144.41 497.23,144.30 C497.42,144.19 497.62,144.08 497.81,143.95 C498.01,143.82 498.21,143.69 498.40,143.54 C498.60,143.40 498.80,143.24 498.99,143.08 C499.19,142.91 499.39,142.73 499.58,142.54 C499.78,142.34 499.97,142.14 500.17,141.92 C500.37,141.70 500.56,141.47 500.76,141.22 C500.96,140.96 501.15,140.70 501.35,140.41 C501.55,140.13 501.74,139.83 501.94,139.50 C502.13,139.18 502.33,138.84 502.53,138.48 C502.72,138.11 502.92,137.73 503.12,137.32 C503.31,136.91 503.51,136.48 503.70,136.02 C503.90,135.57 504.10,135.09 504.29,134.58 C504.49,134.07 504.69,133.54 504.88,132.98 C505.08,132.42 505.28,131.83 505.47,131.22 C505.67,130.60 505.86,129.96 506.06,129.28 C506.26,128.61 506.45,127.90 506.65,127.17 C506.85,126.44 507.04,125.67 507.24,124.88 C507.44,124.09 507.63,123.27 507.83,122.41 C508.02,121.56 508.22,120.68 508.42,119.77 C508.61,118.86 508.81,117.92 509.01,116.96 C509.20,115.99 509.40,115.00 509.60,113.98 C509.79,112.97 509.99,111.92 510.18,110.86 C510.38,109.80 510.58,108.71 510.77,107.61 C510.97,106.50 511.17,105.38 511.36,104.24 C511.56,103.10 511.75,101.95 511.95,100.78 C512.15,99.62 512.34,98.44 512.54,97.27 C512.74,96.09 512.93,94.90 513.13,93.72 C513.33,92.53 513.52,91.35 513.72,90.17 C513.91,88.99 514.11,87.82 514.31,86.66 C514.50,85.50 514.70,84.35 514.90,83.22 C515.09,82.10 515.29,80.98 515.49,79.90 C515.68,78.82 515.88,77.75 516.07,76.73 C516.27,75.70 516.47,74.70 516.66,73.75 C516.86,72.80 517.06,71.87 517.25,71.00 C517.45,70.13 517.64,69.29 517.84,68.52 C518.04,67.74 518.23,67.00 518.43,66.33 C518.63,65.66 518.82,65.03 519.02,64.47 C519.22,63.92 519.41,63.41 519.61,62.97 C519.80,62.54 520.00,62.16 520.20,61.85 C520.39,61.54 520.59,61.30 520.79,61.12 C520.98,60.94 521.18,60.83 521.38,60.79 C521.57,60.76 521.77,60.78 521.96,60.93 C522.16,61.08 522.36,61.33 522.55,61.68 C522.75,62.03 522.95,62.49 523.14,63.04 C523.34,63.59 523.53,64.24 523.73,64.98 C523.93,65.72 524.12,66.55 524.32,67.47 C524.52,68.38 524.71,69.38 524.91,70.45 C525.11,71.52 525.30,72.67 525.50,73.88 C525.69,75.09 525.89,76.38 526.09,77.72 C526.28,79.05 526.48,80.46 526.68,81.90 C526.87,83.35 527.07,84.86 527.26,86.41 C527.46,87.96 527.66,89.57 527.85,91.21 C528.05,92.86 528.25,94.55 528.44,96.28 C528.64,98.01 528.84,99.79 529.03,101.60 C529.23,103.41 529.42,105.26 529.62,107.13 C529.82,109.00 530.01,110.91 530.21,112.81 C530.41,114.71 530.60,116.64 530.80,118.53 C531.00,120.42 531.19,122.33 531.39,124.15 C531.58,125.98 531.78,127.79 531.98,129.48 C532.17,131.18 532.37,132.82 532.57,134.32 C532.76,135.82 532.96,137.22 533.15,138.47 C533.35,139.71 533.55,140.83 533.74,141.79 C533.94,142.75 534.14,143.55 534.33,144.22 C534.53,144.88 534.73,145.38 534.92,145.77 C535.12,146.17 535.31,146.41 535.51,146.58 C535.71,146.75 536.00,146.76 536.10,146.80" fill="none" stroke="#c2388f" stroke-width="2.0" stroke-linejoin="round" stroke-linecap="butt" clip-path="url(#ci)"/>
<path d="M477.20,146.76 C477.30,146.76 477.59,146.76 477.79,146.76 C477.99,146.76 478.18,146.75 478.38,146.75 C478.57,146.75 478.77,146.75 478.97,146.75 C479.16,146.74 479.36,146.74 479.56,146.74 C479.75,146.74 479.95,146.73 480.14,146.73 C480.34,146.73 480.54,146.73 480.73,146.72 C480.93,146.72 481.13,146.72 481.32,146.71 C481.52,146.71 481.72,146.71 481.91,146.71 C482.11,146.70 482.30,146.70 482.50,146.69 C482.70,146.69 482.89,146.69 483.09,146.68 C483.29,146.68 483.48,146.67 483.68,146.67 C483.88,146.66 484.07,146.66 484.27,146.65 C484.46,146.65 484.66,146.64 484.86,146.64 C485.05,146.63 485.25,146.63 485.45,146.62 C485.64,146.61 485.84,146.61 486.03,146.60 C486.23,146.59 486.43,146.59 486.62,146.58 C486.82,146.57 487.02,146.56 487.21,146.56 C487.41,146.55 487.61,146.54 487.80,146.53 C488.00,146.52 488.19,146.51 488.39,146.50 C488.59,146.49 488.78,146.48 488.98,146.47 C489.18,146.45 489.37,146.44 489.57,146.43 C489.77,146.42 489.96,146.40 490.16,146.39 C490.35,146.37 490.55,146.36 490.75,146.34 C490.94,146.33 491.14,146.31 491.34,146.29 C491.53,146.27 491.73,146.25 491.93,146.23 C492.12,146.21 492.32,146.19 492.51,146.16 C492.71,146.14 492.91,146.11 493.10,146.08 C493.30,146.06 493.50,146.03 493.69,146.00 C493.89,145.96 494.08,145.93 494.28,145.89 C494.48,145.86 494.67,145.82 494.87,145.78 C495.07,145.73 495.26,145.69 495.46,145.64 C495.66,145.59 495.85,145.54 496.05,145.48 C496.24,145.43 496.44,145.37 496.64,145.30 C496.83,145.24 497.03,145.17 497.23,145.09 C497.42,145.02 497.62,144.94 497.81,144.85 C498.01,144.76 498.21,144.67 498.40,144.57 C498.60,144.47 498.80,144.37 498.99,144.25 C499.19,144.14 499.39,144.02 499.58,143.88 C499.78,143.75 499.97,143.61 500.17,143.46 C500.37,143.31 500.56,143.15 500.76,142.98 C500.96,142.81 501.15,142.63 501.35,142.43 C501.55,142.24 501.74,142.03 501.94,141.81 C502.13,141.59 502.33,141.36 502.53,141.11 C502.72,140.86 502.92,140.60 503.12,140.32 C503.31,140.04 503.51,139.74 503.70,139.43 C503.90,139.12 504.10,138.79 504.29,138.44 C504.49,138.10 504.69,137.73 504.88,137.35 C505.08,136.97 505.28,136.56 505.47,136.14 C505.67,135.72 505.86,135.28 506.06,134.82 C506.26,134.36 506.45,133.88 506.65,133.38 C506.85,132.87 507.04,132.35 507.24,131.81 C507.44,131.27 507.63,130.70 507.83,130.12 C508.02,129.54 508.22,128.94 508.42,128.31 C508.61,127.69 508.81,127.05 509.01,126.39 C509.20,125.73 509.40,125.05 509.60,124.36 C509.79,123.66 509.99,122.95 510.18,122.22 C510.38,121.49 510.58,120.75 510.77,119.99 C510.97,119.24 511.17,118.47 511.36,117.69 C511.56,116.91 511.75,116.12 511.95,115.33 C512.15,114.53 512.34,113.73 512.54,112.92 C512.74,112.12 512.93,111.30 513.13,110.50 C513.33,109.69 513.52,108.87 513.72,108.07 C513.91,107.26 514.11,106.46 514.31,105.67 C514.50,104.88 514.70,104.09 514.90,103.32 C515.09,102.55 515.29,101.79 515.49,101.05 C515.68,100.31 515.88,99.58 516.07,98.88 C516.27,98.18 516.47,97.49 516.66,96.84 C516.86,96.19 517.06,95.56 517.25,94.96 C517.45,94.36 517.64,93.79 517.84,93.26 C518.04,92.73 518.23,92.23 518.43,91.77 C518.63,91.30 518.82,90.88 519.02,90.50 C519.22,90.11 519.41,89.77 519.61,89.47 C519.80,89.17 520.00,88.91 520.20,88.70 C520.39,88.49 520.59,88.32 520.79,88.20 C520.98,88.08 521.18,88.00 521.38,87.98 C521.57,87.96 521.77,87.97 521.96,88.07 C522.16,88.17 522.36,88.34 522.55,88.58 C522.75,88.83 522.95,89.14 523.14,89.51 C523.34,89.89 523.53,90.34 523.73,90.84 C523.93,91.35 524.12,91.92 524.32,92.54 C524.52,93.17 524.71,93.85 524.91,94.58 C525.11,95.31 525.30,96.10 525.50,96.93 C525.69,97.76 525.89,98.64 526.09,99.55 C526.28,100.47 526.48,101.43 526.68,102.42 C526.87,103.41 527.07,104.44 527.26,105.50 C527.46,106.56 527.66,107.66 527.85,108.78 C528.05,109.91 528.25,111.07 528.44,112.25 C528.64,113.43 528.84,114.65 529.03,115.89 C529.23,117.12 529.42,118.39 529.62,119.67 C529.82,120.94 530.01,122.25 530.21,123.55 C530.41,124.85 530.60,126.17 530.80,127.47 C531.00,128.76 531.19,130.06 531.39,131.31 C531.58,132.56 531.78,133.80 531.98,134.96 C532.17,136.12 532.37,137.24 532.57,138.26 C532.76,139.29 532.96,140.25 533.15,141.10 C533.35,141.95 533.55,142.72 533.74,143.37 C533.94,144.03 534.14,144.58 534.33,145.03 C534.53,145.49 534.73,145.83 534.92,146.10 C535.12,146.37 535.31,146.53 535.51,146.65 C535.71,146.76 536.00,146.77 536.10,146.80" fill="none" stroke="#6cc24a" stroke-width="2.0" stroke-linejoin="round" stroke-linecap="butt" clip-path="url(#ci)"/>
<path d="M477.20,146.77 C477.30,146.77 477.59,146.77 477.79,146.77 C477.99,146.77 478.18,146.77 478.38,146.76 C478.57,146.76 478.77,146.76 478.97,146.76 C479.16,146.76 479.36,146.76 479.56,146.76 C479.75,146.75 479.95,146.75 480.14,146.75 C480.34,146.75 480.54,146.75 480.73,146.74 C480.93,146.74 481.13,146.74 481.32,146.74 C481.52,146.74 481.72,146.73 481.91,146.73 C482.11,146.73 482.30,146.73 482.50,146.72 C482.70,146.72 482.89,146.72 483.09,146.71 C483.29,146.71 483.48,146.71 483.68,146.70 C483.88,146.70 484.07,146.70 484.27,146.69 C484.46,146.69 484.66,146.69 484.86,146.68 C485.05,146.68 485.25,146.67 485.45,146.67 C485.64,146.66 485.84,146.66 486.03,146.65 C486.23,146.65 486.43,146.64 486.62,146.64 C486.82,146.63 487.02,146.63 487.21,146.62 C487.41,146.61 487.61,146.61 487.80,146.60 C488.00,146.59 488.19,146.59 488.39,146.58 C488.59,146.57 488.78,146.56 488.98,146.56 C489.18,146.55 489.37,146.54 489.57,146.53 C489.77,146.52 489.96,146.51 490.16,146.50 C490.35,146.49 490.55,146.48 490.75,146.46 C490.94,146.45 491.14,146.44 491.34,146.43 C491.53,146.41 491.73,146.40 491.93,146.38 C492.12,146.37 492.32,146.35 492.51,146.33 C492.71,146.32 492.91,146.30 493.10,146.28 C493.30,146.26 493.50,146.23 493.69,146.21 C493.89,146.19 494.08,146.16 494.28,146.14 C494.48,146.11 494.67,146.08 494.87,146.05 C495.07,146.02 495.26,145.99 495.46,145.95 C495.66,145.92 495.85,145.88 496.05,145.84 C496.24,145.80 496.44,145.75 496.64,145.70 C496.83,145.66 497.03,145.61 497.23,145.55 C497.42,145.50 497.62,145.44 497.81,145.38 C498.01,145.31 498.21,145.24 498.40,145.17 C498.60,145.10 498.80,145.02 498.99,144.94 C499.19,144.85 499.39,144.76 499.58,144.67 C499.78,144.57 499.97,144.47 500.17,144.36 C500.37,144.25 500.56,144.13 500.76,144.01 C500.96,143.88 501.15,143.75 501.35,143.61 C501.55,143.46 501.74,143.31 501.94,143.15 C502.13,142.99 502.33,142.82 502.53,142.64 C502.72,142.46 502.92,142.26 503.12,142.06 C503.31,141.86 503.51,141.64 503.70,141.41 C503.90,141.18 504.10,140.94 504.29,140.69 C504.49,140.44 504.69,140.17 504.88,139.89 C505.08,139.61 505.28,139.32 505.47,139.01 C505.67,138.70 505.86,138.38 506.06,138.04 C506.26,137.70 506.45,137.35 506.65,136.99 C506.85,136.62 507.04,136.24 507.24,135.84 C507.44,135.44 507.63,135.03 507.83,134.61 C508.02,134.18 508.22,133.74 508.42,133.29 C508.61,132.83 508.81,132.36 509.01,131.88 C509.20,131.40 509.40,130.90 509.60,130.39 C509.79,129.88 509.99,129.36 510.18,128.83 C510.38,128.30 510.58,127.75 510.77,127.20 C510.97,126.65 511.17,126.09 511.36,125.52 C511.56,124.95 511.75,124.37 511.95,123.79 C512.15,123.21 512.34,122.62 512.54,122.03 C512.74,121.44 512.93,120.85 513.13,120.26 C513.33,119.67 513.52,119.07 513.72,118.48 C513.91,117.90 514.11,117.31 514.31,116.73 C514.50,116.15 514.70,115.57 514.90,115.01 C515.09,114.45 515.29,113.89 515.49,113.35 C515.68,112.81 515.88,112.28 516.07,111.76 C516.27,111.25 516.47,110.75 516.66,110.27 C516.86,109.80 517.06,109.34 517.25,108.90 C517.45,108.46 517.64,108.05 517.84,107.66 C518.04,107.27 518.23,106.90 518.43,106.57 C518.63,106.23 518.82,105.92 519.02,105.64 C519.22,105.36 519.41,105.11 519.61,104.89 C519.80,104.67 520.00,104.48 520.20,104.33 C520.39,104.17 520.59,104.05 520.79,103.96 C520.98,103.87 521.18,103.81 521.38,103.80 C521.57,103.78 521.77,103.79 521.96,103.86 C522.16,103.94 522.36,104.06 522.55,104.24 C522.75,104.42 522.95,104.64 523.14,104.92 C523.34,105.20 523.53,105.52 523.73,105.89 C523.93,106.26 524.12,106.68 524.32,107.13 C524.52,107.59 524.71,108.09 524.91,108.62 C525.11,109.16 525.30,109.74 525.50,110.34 C525.69,110.95 525.89,111.59 526.09,112.26 C526.28,112.93 526.48,113.63 526.68,114.35 C526.87,115.08 527.07,115.83 527.26,116.61 C527.46,117.38 527.66,118.18 527.85,119.01 C528.05,119.83 528.25,120.68 528.44,121.54 C528.64,122.41 528.84,123.30 529.03,124.20 C529.23,125.10 529.42,126.03 529.62,126.96 C529.82,127.90 530.01,128.85 530.21,129.80 C530.41,130.75 530.60,131.72 530.80,132.67 C531.00,133.61 531.19,134.56 531.39,135.48 C531.58,136.39 531.78,137.29 531.98,138.14 C532.17,138.99 532.37,139.81 532.57,140.56 C532.76,141.31 532.96,142.01 533.15,142.63 C533.35,143.26 533.55,143.82 533.74,144.29 C533.94,144.77 534.14,145.18 534.33,145.51 C534.53,145.84 534.73,146.09 534.92,146.29 C535.12,146.48 535.31,146.60 535.51,146.69 C535.71,146.77 536.00,146.78 536.10,146.80" fill="none" stroke="#f47a20" stroke-width="2.0" stroke-linejoin="round" stroke-linecap="butt" clip-path="url(#ci)"/>
<path d="M477.20,146.78 C477.30,146.78 477.59,146.78 477.79,146.78 C477.99,146.78 478.18,146.78 478.38,146.78 C478.57,146.78 478.77,146.78 478.97,146.78 C479.16,146.77 479.36,146.77 479.56,146.77 C479.75,146.77 479.95,146.77 480.14,146.77 C480.34,146.77 480.54,146.77 480.73,146.76 C480.93,146.76 481.13,146.76 481.32,146.76 C481.52,146.76 481.72,146.76 481.91,146.76 C482.11,146.75 482.30,146.75 482.50,146.75 C482.70,146.75 482.89,146.75 483.09,146.75 C483.29,146.74 483.48,146.74 483.68,146.74 C483.88,146.74 484.07,146.73 484.27,146.73 C484.46,146.73 484.66,146.73 484.86,146.73 C485.05,146.72 485.25,146.72 485.45,146.72 C485.64,146.71 485.84,146.71 486.03,146.71 C486.23,146.70 486.43,146.70 486.62,146.70 C486.82,146.69 487.02,146.69 487.21,146.69 C487.41,146.68 487.61,146.68 487.80,146.67 C488.00,146.67 488.19,146.67 488.39,146.66 C488.59,146.66 488.78,146.65 488.98,146.65 C489.18,146.64 489.37,146.63 489.57,146.63 C489.77,146.62 489.96,146.62 490.16,146.61 C490.35,146.60 490.55,146.60 490.75,146.59 C490.94,146.58 491.14,146.57 491.34,146.56 C491.53,146.56 491.73,146.55 491.93,146.54 C492.12,146.53 492.32,146.52 492.51,146.50 C492.71,146.49 492.91,146.48 493.10,146.47 C493.30,146.46 493.50,146.44 493.69,146.43 C493.89,146.41 494.08,146.40 494.28,146.38 C494.48,146.36 494.67,146.35 494.87,146.33 C495.07,146.31 495.26,146.29 495.46,146.26 C495.66,146.24 495.85,146.22 496.05,146.19 C496.24,146.17 496.44,146.14 496.64,146.11 C496.83,146.08 497.03,146.05 497.23,146.01 C497.42,145.98 497.62,145.94 497.81,145.90 C498.01,145.86 498.21,145.82 498.40,145.77 C498.60,145.72 498.80,145.68 498.99,145.62 C499.19,145.57 499.39,145.51 499.58,145.45 C499.78,145.39 499.97,145.33 500.17,145.26 C500.37,145.19 500.56,145.11 500.76,145.03 C500.96,144.96 501.15,144.87 501.35,144.78 C501.55,144.69 501.74,144.60 501.94,144.49 C502.13,144.39 502.33,144.28 502.53,144.17 C502.72,144.05 502.92,143.93 503.12,143.80 C503.31,143.67 503.51,143.54 503.70,143.39 C503.90,143.25 504.10,143.10 504.29,142.94 C504.49,142.78 504.69,142.61 504.88,142.43 C505.08,142.26 505.28,142.07 505.47,141.87 C505.67,141.68 505.86,141.48 506.06,141.26 C506.26,141.05 506.45,140.83 506.65,140.60 C506.85,140.36 507.04,140.12 507.24,139.87 C507.44,139.62 507.63,139.36 507.83,139.09 C508.02,138.82 508.22,138.54 508.42,138.26 C508.61,137.97 508.81,137.67 509.01,137.37 C509.20,137.06 509.40,136.75 509.60,136.43 C509.79,136.11 509.99,135.78 510.18,135.44 C510.38,135.10 510.58,134.76 510.77,134.41 C510.97,134.06 511.17,133.71 511.36,133.35 C511.56,132.99 511.75,132.62 511.95,132.26 C512.15,131.89 512.34,131.52 512.54,131.14 C512.74,130.77 512.93,130.40 513.13,130.02 C513.33,129.65 513.52,129.27 513.72,128.90 C513.91,128.53 514.11,128.16 514.31,127.79 C514.50,127.42 514.70,127.06 514.90,126.70 C515.09,126.35 515.29,126.00 515.49,125.65 C515.68,125.31 515.88,124.98 516.07,124.65 C516.27,124.33 516.47,124.01 516.66,123.71 C516.86,123.41 517.06,123.12 517.25,122.84 C517.45,122.57 517.64,122.30 517.84,122.06 C518.04,121.81 518.23,121.58 518.43,121.37 C518.63,121.15 518.82,120.96 519.02,120.78 C519.22,120.60 519.41,120.44 519.61,120.30 C519.80,120.17 520.00,120.05 520.20,119.95 C520.39,119.85 520.59,119.77 520.79,119.72 C520.98,119.66 521.18,119.63 521.38,119.62 C521.57,119.61 521.77,119.61 521.96,119.66 C522.16,119.71 522.36,119.78 522.55,119.90 C522.75,120.01 522.95,120.15 523.14,120.33 C523.34,120.50 523.53,120.71 523.73,120.94 C523.93,121.17 524.12,121.44 524.32,121.72 C524.52,122.01 524.71,122.33 524.91,122.67 C525.11,123.01 525.30,123.37 525.50,123.75 C525.69,124.14 525.89,124.54 526.09,124.96 C526.28,125.39 526.48,125.83 526.68,126.29 C526.87,126.75 527.07,127.22 527.26,127.71 C527.46,128.20 527.66,128.71 527.85,129.23 C528.05,129.75 528.25,130.29 528.44,130.83 C528.64,131.38 528.84,131.94 529.03,132.51 C529.23,133.08 529.42,133.67 529.62,134.26 C529.82,134.85 530.01,135.45 530.21,136.06 C530.41,136.66 530.60,137.27 530.80,137.86 C531.00,138.46 531.19,139.06 531.39,139.64 C531.58,140.22 531.78,140.79 531.98,141.33 C532.17,141.86 532.37,142.38 532.57,142.86 C532.76,143.33 532.96,143.77 533.15,144.17 C533.35,144.56 533.55,144.91 533.74,145.22 C533.94,145.52 534.14,145.77 534.33,145.98 C534.53,146.19 534.73,146.35 534.92,146.48 C535.12,146.60 535.31,146.68 535.51,146.73 C535.71,146.78 536.00,146.79 536.10,146.80" fill="none" stroke="#84161c" stroke-width="2.0" stroke-linejoin="round" stroke-linecap="butt" clip-path="url(#ci)"/>
<circle cx="536.1" cy="47.2" r="2.7" fill="#2a3f9e"/>
<text transform="translate(540.60,51.60) scale(0.95,1)" font-size="13.2" text-anchor="start" fill="#222" >Mg<tspan font-size="9.5" dy="-3.8">+</tspan></text>
<circle cx="536.1" cy="61.6" r="2.7" fill="#c2388f"/>
<text transform="translate(540.60,67.30) scale(0.95,1)" font-size="13.2" text-anchor="start" fill="#222" >N<tspan font-size="8.5" dy="2.5">2</tspan><tspan font-size="9.5" dy="-4.2" dx="-0.4">+</tspan></text>
<circle cx="536.1" cy="88.8" r="2.7" fill="#6cc24a"/>
<text transform="translate(540.60,91.90) scale(0.95,1)" font-size="13.2" text-anchor="start" fill="#222" >CaH<tspan font-size="9.5" dy="-3.8">+</tspan></text>
<circle cx="536.1" cy="105.1" r="2.7" fill="#f47a20"/>
<text transform="translate(540.60,111.70) scale(0.95,1)" font-size="13.2" text-anchor="start" fill="#222" >CaO<tspan font-size="9.5" dy="-3.8">+</tspan></text>
<circle cx="536.1" cy="120.5" r="2.7" fill="#84161c"/>
<text transform="translate(540.60,125.10) scale(0.95,1)" font-size="13.2" text-anchor="start" fill="#222" >Sr<tspan font-size="9.5" dy="-3.8">+</tspan></text>
<text transform="translate(504.55,161.20) scale(0.9,1)" font-size="12.7" text-anchor="middle" fill="#222" >–<tspan dx="1.2">0.5</tspan></text>
<text transform="translate(533.10,161.20) scale(0.9,1)" font-size="12.7" text-anchor="middle" fill="#222" >0</text>
<path d="M413.3,26.6 V19.3 H471.6 V26.6 M442.7,19.3 V14.1 H506.6 V22" fill="none" stroke="#68696b" stroke-width="1.6"/>
<path d="M502.2,18.6 Q505,19.4 506.6,20.5 Q508.2,19.4 511.0,18.6 Q508.7,22.2 506.6,26.6 Q504.5,22.2 502.2,18.6 Z" fill="#68696b"/>
<rect x="55.5" y="202.1" width="174.0" height="118.00000000000003" fill="none" stroke="#222222" stroke-width="1.45"/>
<path d="M200.50,320.1 v-5.0 M200.50,202.1 v5.0 M171.50,320.1 v-5.0 M171.50,202.1 v5.0 M142.50,320.1 v-5.0 M142.50,202.1 v5.0 M113.50,320.1 v-5.0 M113.50,202.1 v5.0 M84.50,320.1 v-5.0 M84.50,202.1 v5.0 M55.5,229.10 h5.0 M229.5,229.10 h-5.0 M55.5,255.60 h5.0 M229.5,255.60 h-5.0 M55.5,282.10 h5.0 M229.5,282.10 h-5.0 M55.5,308.60 h5.0 M229.5,308.60 h-5.0 " fill="none" stroke="#222222" stroke-width="1.3"/>
<path d="M55.50,310.80 C60.32,309.75 74.65,306.60 84.40,304.50 C94.15,302.40 104.15,299.92 114.00,298.20 C123.85,296.48 135.83,294.98 143.50,294.20 C151.17,293.42 155.10,293.73 160.00,293.50 C164.90,293.27 169.68,293.13 172.90,292.80 C176.12,292.47 177.17,292.18 179.30,291.50 C181.43,290.82 183.57,290.00 185.70,288.70 C187.83,287.40 189.95,285.75 192.10,283.70 C194.25,281.65 196.45,279.25 198.60,276.40 C200.75,273.55 203.25,269.72 205.00,266.60 C206.75,263.48 207.98,260.33 209.10,257.70 C210.22,255.07 210.83,253.02 211.70,250.80 C212.57,248.58 213.43,246.43 214.30,244.40 C215.17,242.37 216.05,240.32 216.90,238.60 C217.75,236.88 218.55,235.27 219.40,234.10 C220.25,232.93 221.13,232.18 222.00,231.60 C222.87,231.02 223.35,230.82 224.60,230.60 C225.85,230.38 228.68,230.35 229.50,230.30" fill="none" stroke="#1a1a1a" stroke-width="2.5" stroke-linejoin="round" stroke-linecap="butt" clip-path="url(#cc)"/>
<path d="M55.50,312.50 C60.32,311.45 74.65,308.30 84.40,306.20 C94.15,304.10 104.15,301.62 114.00,299.90 C123.85,298.18 135.83,296.68 143.50,295.90 C151.17,295.12 155.10,295.42 160.00,295.20 C164.90,294.98 169.68,294.92 172.90,294.60 C176.12,294.28 177.17,294.02 179.30,293.30 C181.43,292.58 183.57,291.75 185.70,290.30 C187.83,288.85 189.95,286.88 192.10,284.60 C194.25,282.32 196.45,279.57 198.60,276.60 C200.75,273.63 203.25,269.92 205.00,266.80 C206.75,263.68 207.98,260.13 209.10,257.90 C210.22,255.67 210.83,254.57 211.70,253.40 C212.57,252.23 213.43,251.48 214.30,250.90 C215.17,250.32 216.05,250.07 216.90,249.90 C217.75,249.73 218.33,249.77 219.40,249.90 C220.47,250.03 221.62,250.32 223.30,250.70 C224.98,251.08 228.47,251.95 229.50,252.20" fill="none" stroke="#e8141c" stroke-width="2.5" stroke-linejoin="round" stroke-linecap="butt" clip-path="url(#cc)"/>
<text transform="translate(229.50,333.50) scale(0.9,1)" font-size="12.7" text-anchor="middle" fill="#222" >0</text>
<text transform="translate(201.60,333.50) scale(0.9,1)" font-size="12.7" text-anchor="middle" fill="#222" >–<tspan dx="1.2">0.5</tspan></text>
<text transform="translate(171.50,333.50) scale(0.9,1)" font-size="12.7" text-anchor="middle" fill="#222" >–<tspan dx="1.2">1</tspan></text>
<text transform="translate(143.60,333.50) scale(0.9,1)" font-size="12.7" text-anchor="middle" fill="#222" >–<tspan dx="1.2">1.5</tspan></text>
<text transform="translate(113.50,333.50) scale(0.9,1)" font-size="12.7" text-anchor="middle" fill="#222" >–<tspan dx="1.2">2</tspan></text>
<text transform="translate(85.60,333.50) scale(0.9,1)" font-size="12.7" text-anchor="middle" fill="#222" >–<tspan dx="1.2">2.5</tspan></text>
<text transform="translate(55.50,333.50) scale(0.9,1)" font-size="12.7" text-anchor="middle" fill="#222" >–<tspan dx="1.2">3</tspan></text>
<text transform="translate(47.00,206.90) scale(0.8,1)" font-size="12.7" text-anchor="end" fill="#222" >0</text>
<text transform="translate(51.90,233.10) scale(0.75,1)" font-size="12.7" text-anchor="end" fill="#222" >− 0.05</text>
<text transform="translate(51.60,259.60) scale(0.84,1)" font-size="12.7" text-anchor="end" fill="#222" >− 0.1</text>
<text transform="translate(52.20,286.10) scale(0.76,1)" font-size="12.7" text-anchor="end" fill="#222" >− 0.15</text>
<text transform="translate(51.20,312.60) scale(0.79,1)" font-size="12.7" text-anchor="end" fill="#222" >− 0.2</text>
<text x="123.1" y="347.8" font-size="13.6" fill="#222" font-style="italic">x</text>
<text x="134.9" y="347.8" font-size="13.6" fill="#222">/ mm</text>
<text transform="translate(20.6,270.0) rotate(-90) scale(1.13,1) skewX(-6)" font-size="15.0" fill="#222" font-style="italic">Q</text>
<text transform="translate(25.0,259.3) rotate(-90)" font-size="7.4" fill="#222" font-style="italic">zz</text>
<rect x="298.6" y="203.1" width="174.09999999999997" height="116.20000000000002" fill="none" stroke="#222222" stroke-width="1.45"/>
<path d="M443.68,319.3 v-5.0 M443.68,203.1 v5.0 M414.67,319.3 v-5.0 M414.67,203.1 v5.0 M385.65,319.3 v-5.0 M385.65,203.1 v5.0 M356.63,319.3 v-5.0 M356.63,203.1 v5.0 M327.62,319.3 v-5.0 M327.62,203.1 v5.0 M298.6,309.40 h5.0 M472.7,309.40 h-5.0 M298.6,290.10 h5.0 M472.7,290.10 h-5.0 M298.6,270.80 h5.0 M472.7,270.80 h-5.0 M298.6,251.50 h5.0 M472.7,251.50 h-5.0 M298.6,232.20 h5.0 M472.7,232.20 h-5.0 M298.6,212.90 h5.0 M472.7,212.90 h-5.0 " fill="none" stroke="#222222" stroke-width="1.3"/>
<path d="M298.60,244.96 C303.44,244.59 317.94,243.40 327.62,242.74 C337.29,242.08 346.96,241.48 356.63,241.00 C366.31,240.52 377.91,240.00 385.65,239.84 C393.39,239.68 398.22,239.78 403.06,240.03 C407.90,240.29 410.80,240.65 414.67,241.39 C418.54,242.12 422.40,242.93 426.27,244.47 C430.14,246.02 434.49,248.49 437.88,250.65 C441.27,252.80 443.68,254.67 446.58,257.40 C449.49,260.14 452.87,264.48 455.29,267.05 C457.71,269.63 459.35,271.49 461.09,272.84 C462.83,274.19 464.29,274.68 465.74,275.16 C467.19,275.64 468.64,275.64 469.80,275.74 C470.96,275.84 472.22,275.74 472.70,275.74" fill="none" stroke="#1a1a1a" stroke-width="2.5" stroke-linejoin="round" stroke-linecap="butt" clip-path="url(#cd)"/>
<path d="M298.60,245.07 C303.44,244.74 317.94,243.72 327.62,243.14 C337.29,242.56 346.96,242.01 356.63,241.59 C366.31,241.17 377.91,240.72 385.65,240.63 C393.39,240.53 398.22,240.66 403.06,241.01 C407.90,241.37 410.80,241.88 414.67,242.75 C418.54,243.62 422.40,244.62 426.27,246.22 C430.14,247.83 434.49,250.21 437.88,252.40 C441.27,254.59 444.26,257.72 446.58,259.35 C448.91,260.97 450.36,261.58 451.81,262.15 C453.26,262.71 453.94,262.82 455.29,262.73 C456.64,262.63 458.19,262.23 459.93,261.57 C461.67,260.91 464.09,259.51 465.74,258.77 C467.38,258.03 468.64,257.48 469.80,257.13 C470.96,256.77 472.22,256.73 472.70,256.65" fill="none" stroke="#e8141c" stroke-width="2.5" stroke-linejoin="round" stroke-linecap="butt" clip-path="url(#cd)"/>
<text transform="translate(472.70,332.20) scale(0.9,1)" font-size="12.7" text-anchor="middle" fill="#222" >0</text>
<text transform="translate(443.68,332.20) scale(0.9,1)" font-size="12.7" text-anchor="middle" fill="#222" >–<tspan dx="1.2">0.5</tspan></text>
<text transform="translate(413.57,332.20) scale(0.9,1)" font-size="12.7" text-anchor="middle" fill="#222" >–<tspan dx="1.2">1</tspan></text>
<text transform="translate(385.65,332.20) scale(0.9,1)" font-size="12.7" text-anchor="middle" fill="#222" >–<tspan dx="1.2">1.5</tspan></text>
<text transform="translate(355.53,332.20) scale(0.9,1)" font-size="12.7" text-anchor="middle" fill="#222" >–<tspan dx="1.2">2</tspan></text>
<text transform="translate(327.62,332.20) scale(0.9,1)" font-size="12.7" text-anchor="middle" fill="#222" >–<tspan dx="1.2">2.5</tspan></text>
<text transform="translate(297.50,332.20) scale(0.9,1)" font-size="12.7" text-anchor="middle" fill="#222" >–<tspan dx="1.2">3</tspan></text>
<text transform="translate(294.90,313.50) scale(0.95,1)" font-size="12.7" text-anchor="end" fill="#222" >0.4</text>
<text transform="translate(294.90,294.20) scale(0.95,1)" font-size="12.7" text-anchor="end" fill="#222" >0.5</text>
<text transform="translate(294.90,274.90) scale(0.95,1)" font-size="12.7" text-anchor="end" fill="#222" >0.6</text>
<text transform="translate(294.90,255.60) scale(0.95,1)" font-size="12.7" text-anchor="end" fill="#222" >0.7</text>
<text transform="translate(294.90,236.30) scale(0.95,1)" font-size="12.7" text-anchor="end" fill="#222" >0.8</text>
<text transform="translate(294.90,217.00) scale(0.95,1)" font-size="12.7" text-anchor="end" fill="#222" >0.9</text>
<text x="366.2" y="346.2" font-size="13.6" fill="#222" font-style="italic">x</text>
<text x="378.1" y="346.2" font-size="13.6" fill="#222">/ mm</text>
<text transform="translate(270.5,272.4) rotate(-90) scale(1.3,1)" font-size="13.8" fill="#222" font-style="italic">h</text>
<text transform="translate(270.5,259.8) rotate(-90)" font-size="13.6" fill="#222">/ mm</text>
</svg></body></html>
